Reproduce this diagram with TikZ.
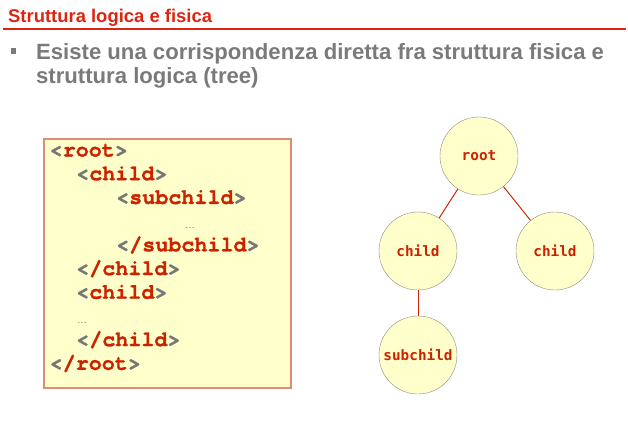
\documentclass[tikz,border=0pt]{standalone}
\usepackage{fontspec}
\setmainfont{Liberation Sans}
\newfontfamily\codefont[BoldFeatures={FakeBold=1.2}]{TeX Gyre Cursor}
\newfontfamily\treefont{DejaVu Sans Mono}
\usepackage{tikz}
\usetikzlibrary{positioning}
\definecolor{TitleRed}{HTML}{DE2410}
\definecolor{TagRed}{HTML}{CC2200}
\definecolor{TagGray}{HTML}{777777}
\definecolor{TextGray}{HTML}{7A7A7A}
\definecolor{PaleYellow}{HTML}{FFFFCC}
\definecolor{BoxBorder}{HTML}{E08A78}
\definecolor{CircleBorder}{HTML}{8C8C80}
\newcommand{\otag}[1]{{\color{TagGray}<}{\color{TagRed}#1}{\color{TagGray}>}}
\newcommand{\ctag}[1]{{\color{TagGray}<}{\color{TagRed}/#1}{\color{TagGray}>}}
\tikzset{
  codeline/.style={anchor=base west, inner sep=0pt, font=\codefont\bfseries\fontsize{21.8}{24}\selectfont},
  codedots/.style={anchor=base west, inner sep=0pt, text=TagGray, font=\fontsize{10}{12}\selectfont},
  treenode/.style={circle, draw=CircleBorder, fill=PaleYellow, minimum size=78bp, inner sep=0pt, text=TagRed, font=\treefont\bfseries\fontsize{14.4}{16}\selectfont},
  treeedge/.style={draw=TagRed, line width=1pt}
}
\begin{document}
\begin{tikzpicture}[x=1bp, y=-1bp]
  \useasboundingbox (0,0) rectangle (628,432);

  % title and bullet
  \node[anchor=base west, inner sep=0pt, text=TitleRed, font=\bfseries\fontsize{18.5}{20}\selectfont] (title) at (8,22.7) {Struttura logica e fisica};
  \draw[TitleRed, line width=2pt] (3,28.5) -- (626,28.5);
  \fill[TextGray] (11,48) rectangle (16,54);
  \node[anchor=base west, inner sep=0pt, text=TextGray, font=\bfseries\fontsize{22.2}{24}\selectfont] (line1) at (36,59.3) {Esiste una corrispondenza diretta fra struttura fisica e};
  \node[anchor=base west, inner sep=0pt, text=TextGray, font=\bfseries\fontsize{22.2}{24}\selectfont] (line2) at (36,83) {struttura logica (tree)};

  % physical structure
  \draw[BoxBorder, fill=PaleYellow, line width=1.2pt] (44,139) rectangle (291,388);
  \node[codeline] (c1) at (49.5,156.5) {\otag{root}};
  \node[codeline] (c2) at (76,180.2) {\otag{child}};
  \node[codeline] (c3) at (116,203.9) {\otag{subchild}};
  \node[codedots] (c4) at (185,228.5) {…};
  \node[codeline] (c5) at (116,251.3) {\ctag{subchild}};
  \node[codeline] (c6) at (76,275) {\ctag{child}};
  \node[codeline] (c7) at (76,298.7) {\otag{child}};
  \node[codedots] (c8) at (77,323.5) {…};
  \node[codeline] (c9) at (76,346.1) {\ctag{child}};
  \node[codeline] (c10) at (49.5,369.8) {\ctag{root}};

  % logical structure
  \node[treenode] (root) at (479,156) {root};
  \node[treenode] (childa) at (418,251) {child};
  \node[treenode] (childb) at (555,251) {child};
  \node[treenode] (subchild) at (418,355) {subchild};

  \draw[treeedge] (root) -- (childa);
  \draw[treeedge] (root) -- (childb);
  \draw[treeedge] (childa) -- (subchild);
\end{tikzpicture}
\end{document}
